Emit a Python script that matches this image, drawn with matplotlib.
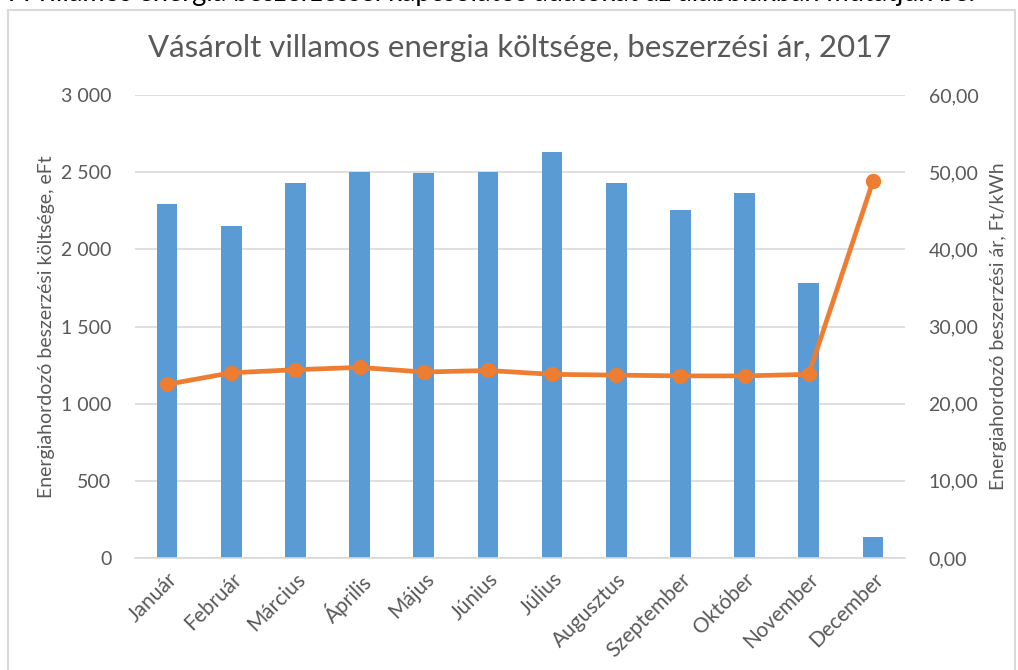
import matplotlib.pyplot as plt
from matplotlib.patches import Rectangle
import numpy as np

months = ["Január", "Február", "Március", "Április", "Május", "Június",
          "Július", "Augusztus", "Szeptember", "Október", "November", "December"]
cost = [2294, 2153, 2428, 2500, 2492, 2500, 2633, 2428, 2255, 2363, 1784, 136]
price = [22.5, 24.0, 24.4, 24.7, 24.1, 24.3, 23.8, 23.7, 23.6, 23.6, 23.8, 48.8]

title = "Vásárolt villamos energia költsége, beszerzési ár, 2017"
ylabel_left = "Energiahordozó beszerzési költsége, eFt"
ylabel_right = "Energiahordozó beszerzési ár, Ft/kWh"
top_text = "A villamos energia beszerzéssel kapcsolatos adatokat az alábbiakban mutatjuk be."

plt.rcParams['font.family'] = ['Lato', 'DejaVu Sans']
gray = "#595959"

fig = plt.figure(figsize=(10.18, 6.70), dpi=100)
# chart frame
fig.patches.append(Rectangle((8 / 1018, -0.1), (1007 / 1018), 1 - 10 / 670 + 0.1,
                             transform=fig.transFigure, fill=False,
                             edgecolor="#D9D9D9", linewidth=1.5))
# document text above the chart, cut off by the page edge
fig.text(975 / 1018, 1 + 7 / 670, top_text, ha="right", va="center",
         fontsize=19.5, color="black")

ax = fig.add_axes([135 / 1018, 1 - 558 / 670, 770 / 1018, 463 / 670])
x = np.arange(len(months))
ax.bar(x, cost, width=0.32, color="#5B9BD5", zorder=2)
ax.set_ylim(0, 3000)
ax.set_xlim(-0.5, len(months) - 0.5)
ax.set_yticks(np.arange(0, 3001, 500))
ax.set_yticklabels([f"{v:,}".replace(",", " ") for v in range(0, 3001, 500)])
ax.grid(axis="y", color="#D9D9D9", linewidth=1.2, zorder=0)
ax.set_axisbelow(True)
for s in ["top", "right", "left"]:
    ax.spines[s].set_visible(False)
ax.spines["bottom"].set_color("#D9D9D9")
ax.spines["bottom"].set_linewidth(1.2)
ax.tick_params(axis="both", length=0, colors=gray, labelsize=14)
ax.tick_params(axis="y", pad=17)
ax.set_xticks(x)
ax.set_xticklabels(months, rotation=45, ha="right", rotation_mode="anchor",
                   fontsize=15)
ax.tick_params(axis="x", pad=8)
ax.set_ylabel(ylabel_left, fontsize=14, color=gray, labelpad=4)

ax2 = ax.twinx()
ax2.plot(x, price, color="#ED7D31", linewidth=3.4, marker="o", markersize=10,
         zorder=3)
ax2.set_ylim(0, 60)
ax2.set_yticks(np.arange(0, 61, 10))
ax2.set_yticklabels([f"{v},00" for v in range(0, 61, 10)])
for s in ["top", "right", "left", "bottom"]:
    ax2.spines[s].set_visible(False)
ax2.tick_params(axis="y", length=0, colors=gray, labelsize=14, pad=17)
ax2.set_ylabel(ylabel_right, fontsize=14, color=gray, labelpad=8)

fig.text(520 / 1018, 1 - 48 / 670, title, ha="center", va="center",
         fontsize=22.5, color=gray)

fig.savefig("out.png", dpi=100)
